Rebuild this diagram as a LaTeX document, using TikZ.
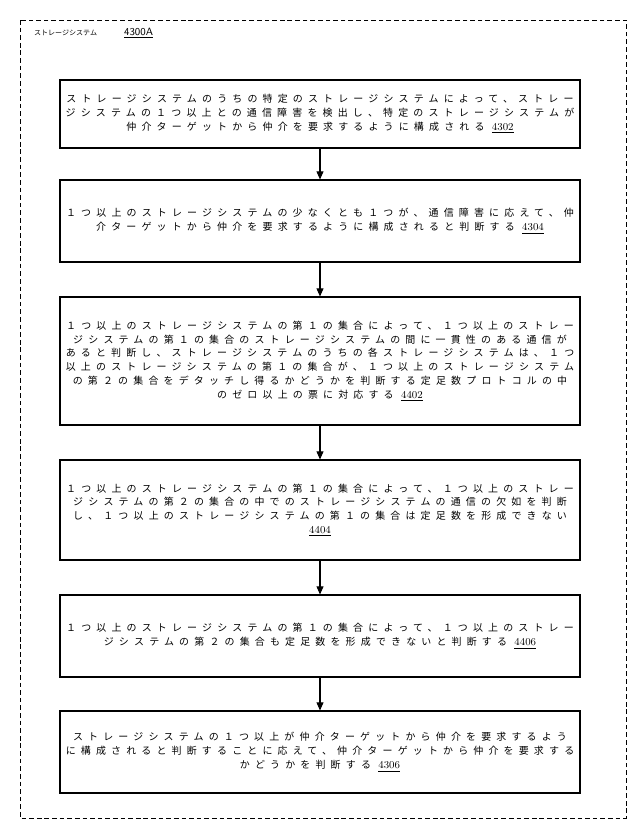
\documentclass[tikz,border=0pt]{standalone}
\usepackage{fontspec}
\usetikzlibrary{arrows.meta}
\newfontfamily\jp[LetterSpace=52]{Noto Sans CJK JP}
\newfontfamily\jpsmall{Noto Sans CJK JP}
\newcommand{\stepno}[1]{{\rmfamily\fontsize{9}{10}\selectfont\underline{#1}}}

\tikzset{
  stepbox/.style={draw, line width=0.9pt, minimum width=15.6cm, align=center,
    font=\jp\fontsize{8.5}{11.9}\selectfont},
  flow/.style={-{Triangle[length=7pt,width=6pt]}, line width=0.9pt}
}

\begin{document}
\begin{tikzpicture}[x=0.03cm, y=-0.03cm]
      \useasboundingbox (0,0) rectangle (640,832);
      \draw[dash pattern=on 4pt off 2.5pt, line width=0.7pt] (20,20) rectangle (626,818);
      \node[anchor=west, font=\jpsmall\fontsize{6}{7}\selectfont] (sys) at (30,33) {ストレージシステム};
      \node[anchor=west, font=\sffamily\fontsize{9}{10}\selectfont] (sysno) at (120,33) {\underline{4300A}};

      \node[stepbox, minimum height=2.04cm] (b4302) at (320,114) {ストレージシステムのうちの特定のストレージシステムによって、ストレー\\ジシステムの１つ以上との通信障害を検出し、特定のストレージシステムが\\仲介ターゲットから仲介を要求するように構成される \stepno{4302}};
      \node[stepbox, minimum height=2.46cm] (b4304) at (320,221) {１つ以上のストレージシステムの少なくとも１つが、通信障害に応えて、仲\\介ターゲットから仲介を要求するように構成されると判断する \stepno{4304}};
      \node[stepbox, minimum height=3.84cm] (b4402) at (320,361) {１つ以上のストレージシステムの第１の集合によって、１つ以上のストレー\\ジシステムの第１の集合のストレージシステムの間に一貫性のある通信が\\あると判断し、ストレージシステムのうちの各ストレージシステムは、１つ\\以上のストレージシステムの第１の集合が、１つ以上のストレージシステム\\の第２の集合をデタッチし得るかどうかを判断する定足数プロトコルの中\\のゼロ以上の票に対応する \stepno{4402}};
      \node[stepbox, minimum height=3.0cm] (b4404) at (320,510) {１つ以上のストレージシステムの第１の集合によって、１つ以上のストレー\\ジシステムの第２の集合の中でのストレージシステムの通信の欠如を判断\\し、１つ以上のストレージシステムの第１の集合は定足数を形成できない\\\stepno{4404}};
      \node[stepbox, minimum height=2.46cm] (b4406) at (320,636) {１つ以上のストレージシステムの第１の集合によって、１つ以上のストレー\\ジシステムの第２の集合も定足数を形成できないと判断する \stepno{4406}};
      \node[stepbox, minimum height=2.46cm] (b4306) at (320,752) {ストレージシステムの１つ以上が仲介ターゲットから仲介を要求するよう\\に構成されると判断することに応えて、仲介ターゲットから仲介を要求する\\かどうかを判断する \stepno{4306}};

      \draw[flow] (b4302) -- (b4304);
      \draw[flow] (b4304) -- (b4402);
      \draw[flow] (b4402) -- (b4404);
      \draw[flow] (b4404) -- (b4406);
      \draw[flow] (b4406) -- (b4306);
\end{tikzpicture}
\end{document}
